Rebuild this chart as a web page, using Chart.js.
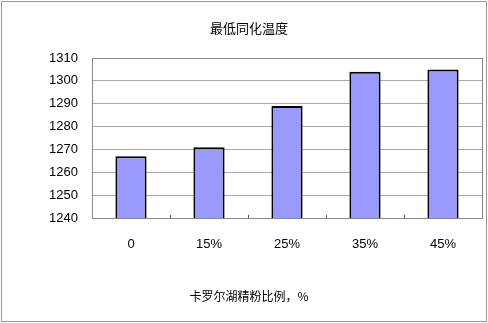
<!DOCTYPE html>
<html>
<head>
<meta charset="utf-8">
<script src="https://cdn.jsdelivr.net/npm/chart.js@4"></script>
<style>
  html, body { margin: 0; padding: 0; background: #fff; }
  #wrap { width: 488px; height: 323px; position: relative; }
</style>
</head>
<body>
<div id="wrap"><canvas id="grafica"></canvas></div>
<script>
const categories = ["0", "15%", "25%", "35%", "45%"];
const temps = [1267, 1271, 1289, 1304, 1305];
const yTicks = [1240, 1250, 1260, 1270, 1280, 1290, 1300, 1310];

const chartTitle = "最低同化温度";
const xTitle = "卡罗尔湖精粉比例，%";

// plot frame, small ticks and outer border
const frame = {
  id: 'frame',
  afterDatasetsDraw(chart) {
    const ctx = chart.ctx;
    const a = chart.chartArea;
    const x = chart.scales.x;
    ctx.save();
    ctx.strokeStyle = '#888';
    ctx.lineWidth = 1;
    ctx.strokeRect(Math.round(a.left) + 0.5, Math.round(a.top) + 0.5,
      Math.round(a.right - a.left), Math.round(a.bottom - a.top));
    ctx.strokeStyle = '#555';
    for (let i = 1; i < categories.length; i++) {
      const px = Math.round((x.getPixelForValue(i - 1) + x.getPixelForValue(i)) / 2) + 0.5;
      ctx.beginPath();
      ctx.moveTo(px, a.bottom);
      ctx.lineTo(px, a.bottom - 3);
      ctx.stroke();
    }
    ctx.strokeStyle = '#999';
    ctx.strokeRect(1.5, 1.5, 485, 320);
    ctx.restore();
  }
};

const grafica = document.getElementById('grafica');

new Chart(grafica, {
  type: 'bar',
  data: {
    labels: categories,
    datasets: [{
      data: temps,
      backgroundColor: '#9999FF',
      borderColor: '#000',
      borderWidth: 2,
      borderSkipped: false,
      categoryPercentage: 1,
      barPercentage: 0.4
    }]
  },
  options: {
    responsive: true,
    maintainAspectRatio: false,
    animation: false,
    layout: { padding: { left: 16, right: 6, top: 0, bottom: 0 } },
    scales: {
      x: {
        grid: { display: false },
        border: { display: false },
        ticks: {
          color: '#000',
          padding: 11,
          font: { family: 'Liberation Sans, Arial', size: 13 }
        },
        afterFit(scale) { scale.height = 71.6; }
      },
      y: {
        min: 1240,
        max: 1310,
        afterBuildTicks(scale) { scale.ticks = yTicks.map(v => ({ value: v })); },
        grid: { color: '#aaa', drawTicks: false },
        border: { display: false },
        ticks: {
          color: '#000',
          padding: 14,
          callback: v => String(v),
          font: { family: 'Liberation Sans, Arial', size: 13 }
        },
        afterFit(scale) { scale.width = 76; }
      }
    },
    plugins: {
      legend: { display: false },
      tooltip: { enabled: false },
      title: {
        display: true,
        text: chartTitle,
        color: '#000',
        padding: { top: 20, bottom: 22.4 },
        font: { family: 'Noto Sans CJK SC', size: 13, weight: 'normal' }
      },
      subtitle: {
        display: true,
        position: 'bottom',
        text: xTitle,
        color: '#000',
        padding: { top: 0, bottom: 19 },
        font: { family: 'Noto Sans CJK SC', size: 12, weight: 'normal' }
      }
    }
  },
  plugins: [frame]
});
</script>
</body>
</html>
